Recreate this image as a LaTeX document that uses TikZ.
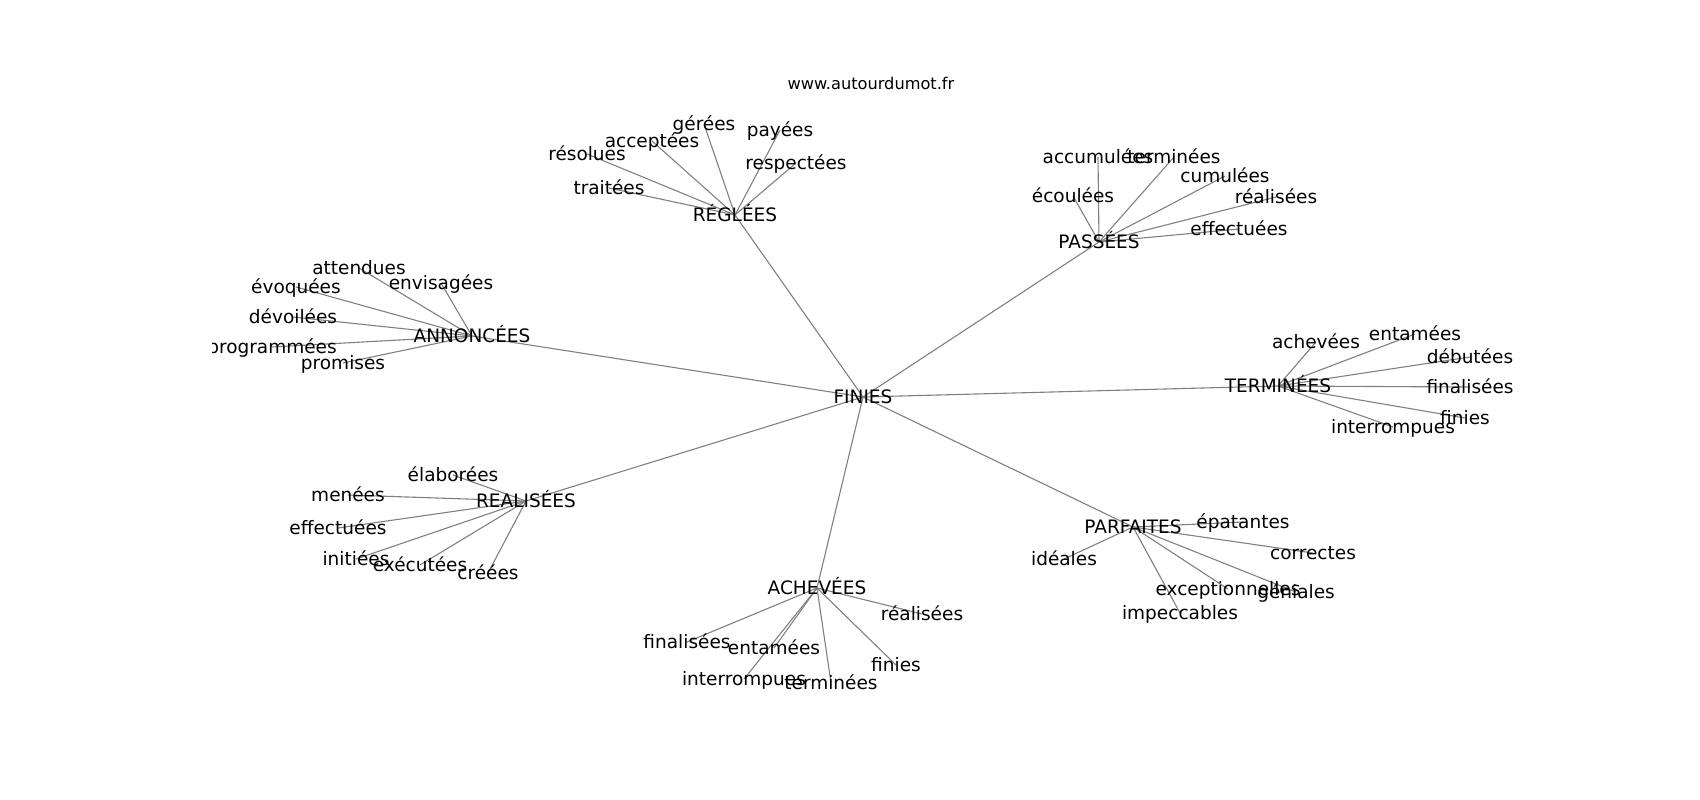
\documentclass[tikz,border=0pt]{standalone}
\usepackage{fontspec}
\setmainfont{DejaVu Sans}
\usetikzlibrary{backgrounds}
\tikzset{
  lab/.style={inner sep=0pt, outer sep=0pt, text height=16pt, text depth=3pt,
    font=\fontsize{18.5}{22}\selectfont, text=black},
  ttl/.style={inner sep=0pt, font=\fontsize{16.2}{19}\selectfont, text=black},
  edge/.style={draw=black!50, line width=1.1pt}
}
\begin{document}
\begin{tikzpicture}[x=1pt,y=-1pt]
\useasboundingbox (0,0) rectangle (1700,800);
\node[ttl] (title) at (871,83) {www.autourdumot.fr};
\begin{scope}
\clip (212.5,96) rectangle (1530,712);
\node[lab] (fin) at (863,397) {FINIES};
% RÉGLÉES
\node[lab] (reg) at (735,215) {RÉGLÉES};
\node[lab] (reg1) at (704,124) {gérées};
\node[lab] (reg2) at (780,130) {payées};
\node[lab] (reg3) at (652,141) {acceptées};
\node[lab] (reg4) at (587,154) {résolues};
\node[lab] (reg5) at (796,163) {respectées};
\node[lab] (reg6) at (609,188) {traitées};
% PASSÉES
\node[lab] (pas) at (1099,242) {PASSÉES};
\node[lab] (pas1) at (1098,157) {accumulées};
\node[lab] (pas2) at (1174,157) {terminées};
\node[lab] (pas3) at (1225,176) {cumulées};
\node[lab] (pas4) at (1073,196) {écoulées};
\node[lab] (pas5) at (1276,197) {réalisées};
\node[lab] (pas6) at (1239,229) {effectuées};
% ANNONCÉES
\node[lab] (ann) at (472,336) {ANNONCÉES};
\node[lab] (ann1) at (359,268) {attendues};
\node[lab] (ann2) at (441,283) {envisagées};
\node[lab] (ann3) at (296,287) {évoquées};
\node[lab] (ann4) at (293,317) {dévoilées};
\node[lab] (ann5) at (272,347) {programmées};
\node[lab] (ann6) at (343,363) {promises};
% TERMINÉES
\node[lab] (ter) at (1278,386) {TERMINÉES};
\node[lab] (ter1) at (1316,342) {achevées};
\node[lab] (ter2) at (1415,334) {entamées};
\node[lab] (ter3) at (1470,357) {débutées};
\node[lab] (ter4) at (1470,387) {finalisées};
\node[lab] (ter5) at (1465,418) {finies};
\node[lab] (ter6) at (1393,427) {interrompues};
% REALISÉES
\node[lab] (rea) at (526,501) {REALISÉES};
\node[lab] (rea1) at (453,475) {élaborées};
\node[lab] (rea2) at (348,495) {menées};
\node[lab] (rea3) at (338,528) {effectuées};
\node[lab] (rea4) at (356,559) {initiées};
\node[lab] (rea5) at (420,565) {exécutées};
\node[lab] (rea6) at (488,573) {créées};
% ACHEVÉES
\node[lab] (ach) at (817,588) {ACHEVÉES};
\node[lab] (ach1) at (922,614) {réalisées};
\node[lab] (ach2) at (687,642) {finalisées};
\node[lab] (ach3) at (774,648) {entamées};
\node[lab] (ach4) at (896,665) {finies};
\node[lab] (ach5) at (744,679) {interrompues};
\node[lab] (ach6) at (831,683) {terminées};
% PARFAITES
\node[lab] (par) at (1133,527) {PARFAITES};
\node[lab] (par1) at (1243,522) {épatantes};
\node[lab] (par2) at (1064,559) {idéales};
\node[lab] (par3) at (1313,553) {correctes};
\node[lab] (par4) at (1228,589) {exceptionnelles};
\node[lab] (par5) at (1296,592) {géniales};
\node[lab] (par6) at (1180,613) {impeccables};
\end{scope}
\begin{scope}[on background layer]
\foreach \h in {reg,pas,ann,ter,rea,ach,par}{
  \draw[edge] (fin.center) -- (\h.center);
  \foreach \i in {1,...,6}{
    \draw[edge] (\h.center) -- (\h\i.center);
  }
}
\end{scope}
\end{tikzpicture}
\end{document}
